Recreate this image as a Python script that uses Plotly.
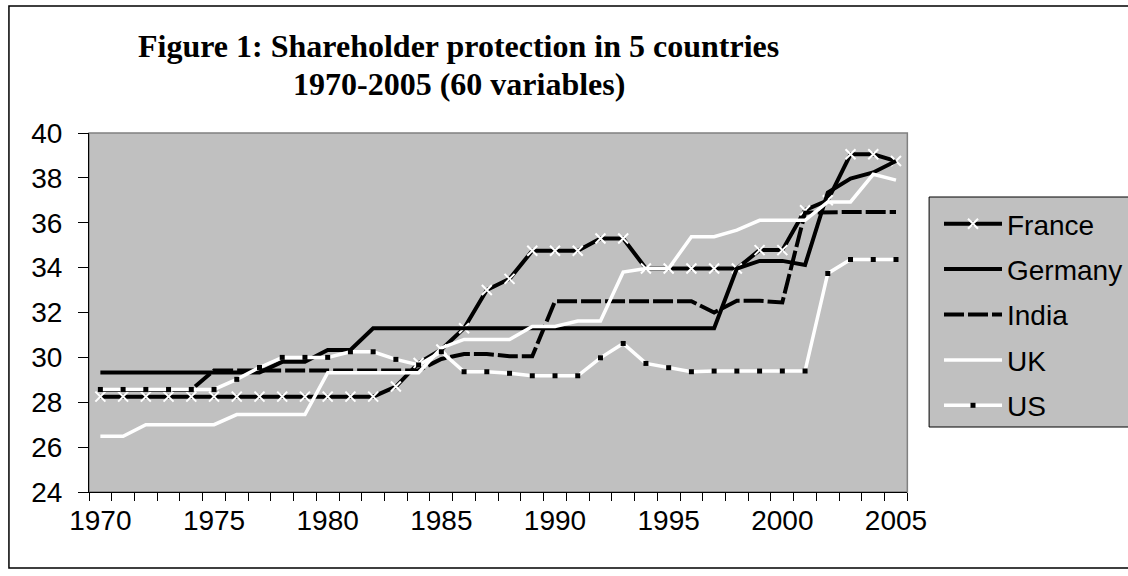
import plotly.graph_objects as go

years = list(range(1970, 2006))

france = [28.25] * 13 + [28.7, 29.75, 30.35, 31.3, 33.0, 33.5, 34.75, 34.75, 34.75, 35.3, 35.3,
                         33.96, 33.96, 33.96, 33.96, 33.96, 34.78, 34.78, 36.56, 37.0, 39.05, 39.05, 38.75]
germany = [29.33] * 8 + [29.8, 29.8, 30.33, 30.33] + [31.3] * 16 + [33.96, 34.3, 34.3, 34.12, 37.35, 37.97, 38.24, 38.75]
india = [28.55] * 5 + [29.42] * 10 + [29.93, 30.15, 30.15, 30.05, 30.05] + [32.5] * 7 + \
        [32.0, 32.52, 32.52, 32.45, 36.45, 36.48, 36.48, 36.48, 36.48]
uk = [26.48, 26.48, 27.0, 27.0, 27.0, 27.0, 27.45, 27.45, 27.45, 27.45,
      29.32, 29.32, 29.32, 29.32, 29.32, 30.42, 30.8, 30.8, 30.8, 31.38, 31.38, 31.62, 31.62,
      33.8, 33.96, 33.96, 35.38, 35.38, 35.67, 36.11, 36.11, 36.11, 36.93, 36.93, 38.16, 37.9]
us = [28.57] * 6 + [29.02, 29.55, 30.0, 30.0, 30.0, 30.25, 30.25, 29.91, 29.66, 30.25, 29.36, 29.36,
                    29.29, 29.18, 29.18, 29.18, 29.98, 30.62, 29.73, 29.54, 29.36,
                    29.39, 29.39, 29.39, 29.39, 29.39, 33.74, 34.36, 34.36, 34.36]

x_labels = list(range(1970, 2006, 5))
y_ticks = list(range(24, 41, 2))

fig = go.Figure()
fig.add_trace(go.Scatter(x=years, y=france, name="France", mode="lines+markers", legendgroup="a",
                         line=dict(color="black", width=4),
                         marker=dict(symbol="x-thin-open", size=10, color="white",
                                     line=dict(color="white", width=2))))
fig.add_trace(go.Scatter(x=years, y=germany, name="Germany", mode="lines", legendgroup="b",
                         line=dict(color="black", width=4)))
fig.add_trace(go.Scatter(x=years, y=india, name="India", mode="lines", legendgroup="c",
                         line=dict(color="black", width=4, dash="20px,4px")))
fig.add_trace(go.Scatter(x=years, y=uk, name="UK", mode="lines", legendgroup="d",
                         line=dict(color="white", width=3.5)))
fig.add_trace(go.Scatter(x=years, y=us, name="US", mode="lines+markers", legendgroup="e",
                         line=dict(color="white", width=3.5),
                         marker=dict(symbol="square", size=5, color="black")))

L, T, W, H = 89, 133, 828, 359

def px(xp):
    return (xp - L) / W

def py(yp):
    return (T + H - yp) / H

fig.update_layout(
    width=1128, height=576,
    margin=dict(l=L, r=1128 - L - W, t=T, b=576 - T - H, pad=0),
    paper_bgcolor="white", plot_bgcolor="#C0C0C0",
    font=dict(family="Liberation Sans, Arial, sans-serif", size=28, color="black"),
    showlegend=True,
    legend=dict(xref="container", yref="container", x=939 / 1128, y=1 - 199 / 576,
                xanchor="left", yanchor="top", bgcolor="rgba(0,0,0,0)",
                borderwidth=0, tracegroupgap=6, font=dict(size=28),
                itemwidth=58),
    xaxis=dict(range=[1969.5, 2005.5], tickvals=x_labels, ticks="", showgrid=False,
               zeroline=False, showline=True, linecolor="black", linewidth=1,
               tickfont=dict(size=28), ticklabelstandoff=3,
               minor=dict(tickvals=[y + 0.5 for y in range(1969, 2006)], ticks="outside",
                          ticklen=8, tickcolor="black", tickwidth=1, showgrid=False)),
    yaxis=dict(range=[24, 40], tickvals=y_ticks, ticks="outside", ticklen=10, tickcolor="black",
               showgrid=False, zeroline=False, showline=True, linecolor="black", linewidth=1,
               tickfont=dict(size=28), ticklabelstandoff=10),
    shapes=[
        dict(type="rect", xref="paper", yref="paper", x0=0, x1=1, y0=0, y1=1,
             line=dict(color="#808080", width=1.5), layer="below"),
        dict(type="rect", xref="paper", yref="paper", x0=px(8), x1=px(1170), y0=py(568), y1=py(6),
             line=dict(color="black", width=1.5)),
        dict(type="rect", xref="paper", yref="paper", x0=px(939), x1=px(1170), y0=py(427), y1=py(197),
             line=dict(color="black", width=1), fillcolor="#C0C0C0", layer="below"),
    ],
    annotations=[
        dict(text="<b>Figure 1: Shareholder protection in 5 countries</b>", xref="paper", yref="paper",
             x=px(463), y=py(46), xanchor="center", yanchor="middle", showarrow=False,
             font=dict(family="Liberation Serif, Times New Roman, serif", size=32, color="black")),
        dict(text="<b>1970-2005 (60 variables)</b>", xref="paper", yref="paper",
             x=px(463), y=py(84), xanchor="center", yanchor="middle", showarrow=False,
             font=dict(family="Liberation Serif, Times New Roman, serif", size=32, color="black")),
    ],
)

fig.write_html("out.html", config={"displayModeBar": False},
               post_script="document.body.style.margin='0';document.body.style.overflow='hidden';")
